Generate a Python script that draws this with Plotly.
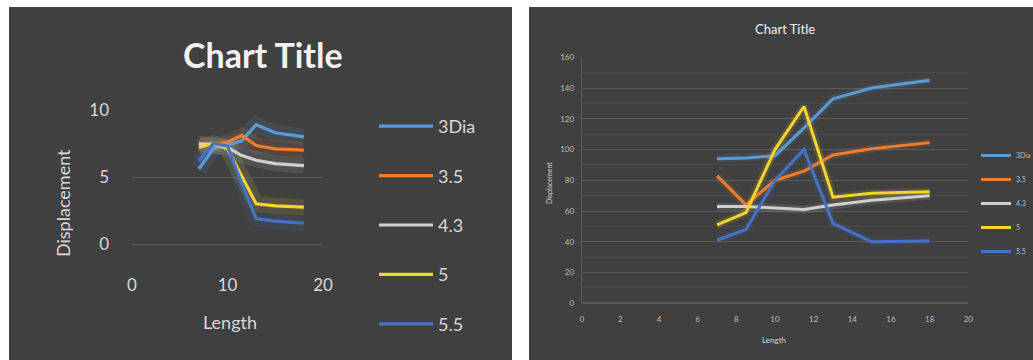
import plotly.graph_objects as go

W, H = 1033, 360

# ---- data ----
series_names = ["3Dia", "3.5", "4.3", "5", "5.5"]
length_vals = [7, 8.5, 10, 11.5, 13, 15, 18]

# left chart (small displacement scale)
disp_small_3dia = [5.6, 7.1, 7.4, 7.7, 8.9, 8.3, 8.0]
disp_small_35 = [7.5, 7.4, 7.6, 8.1, 7.35, 7.1, 7.0]
disp_small_43 = [7.45, 7.45, 7.2, 6.6, 6.25, 6.0, 5.85]
disp_small_5 = [7.2, 7.5, 7.1, 5.0, 3.0, 2.85, 2.75]
disp_small_55 = [6.2, 7.5, 7.3, 4.5, 1.9, 1.7, 1.55]

# right chart (large displacement scale)
disp_large_3dia = [94, 94.5, 96, 114, 133, 140, 145]
disp_large_35 = [83, 64, 80, 86, 96.5, 100.5, 104.5]
disp_large_43 = [63, 63, 62, 61, 64, 67, 70]
disp_large_5 = [51, 59, 100, 128, 69, 71.5, 72.5]
disp_large_55 = [41, 48, 80, 100, 52, 40, 40.5]

colors = ["#5b9bd5", "#ed7d31", "#cfcfcf", "#f4d52c", "#4472c4"]

left_sets = [disp_small_3dia, disp_small_35, disp_small_43, disp_small_5, disp_small_55]
right_sets = [disp_large_3dia, disp_large_35, disp_large_43, disp_large_5, disp_large_55]

FONT = "Lato, 'Open Sans', sans-serif"
PANEL = "#404040"
TXT = "#d9d9d9"


def px(x):
    return x / W


def py(y):
    return 1 - y / H


fig = go.Figure()

# soft glow under the lines, then the lines themselves
for name, col, ys in zip(series_names, colors, left_sets):
    fig.add_trace(go.Scatter(x=length_vals, y=ys, mode="lines", xaxis="x", yaxis="y",
                             line=dict(color=col, width=16), opacity=0.12,
                             showlegend=False, hoverinfo="skip"))
for name, col, ys in zip(series_names, colors, right_sets):
    fig.add_trace(go.Scatter(x=length_vals, y=ys, mode="lines", xaxis="x2", yaxis="y2",
                             line=dict(color=col, width=8), opacity=0.13,
                             showlegend=False, hoverinfo="skip"))

for name, col, ys in zip(series_names, colors, left_sets):
    fig.add_trace(go.Scatter(x=length_vals, y=ys, mode="lines", name=name,
                             xaxis="x", yaxis="y", legend="legend",
                             legendgroup="L" + name,
                             line=dict(color=col, width=3.2)))
for name, col, ys in zip(series_names, colors, right_sets):
    fig.add_trace(go.Scatter(x=length_vals, y=ys, mode="lines", name=name,
                             xaxis="x2", yaxis="y2", legend="legend2",
                             legendgroup="R" + name,
                             line=dict(color=col, width=3)))

shapes = [
    dict(type="rect", xref="paper", yref="paper", x0=px(9), x1=px(512), y0=0, y1=py(7),
         fillcolor=PANEL, line=dict(width=0), layer="below"),
    dict(type="rect", xref="paper", yref="paper", x0=px(529), x1=1, y0=0, y1=py(7),
         fillcolor=PANEL, line=dict(width=0), layer="below"),
]


def label(text, x, y, size, color=TXT, angle=0):
    return dict(text=text, x=px(x), y=py(y), xref="paper", yref="paper",
                xanchor="center", yanchor="middle", showarrow=False, textangle=angle,
                font=dict(size=size, color=color, family=FONT))


annotations = [
    label("<b>Chart Title</b>", 263, 54, 34, "#f2f2f2"),
    label("Displacement", 63, 203, 18, angle=-90),
    label("Length", 230, 322, 18),
    label("Chart Title", 785, 29, 13, "#f2f2f2"),
    label("Displacement", 549, 183, 7, angle=-90),
    label("Length", 774, 340, 8),
]

fig.update_layout(
    width=W, height=H,
    margin=dict(l=0, r=0, t=0, b=0, autoexpand=False),
    paper_bgcolor="white",
    plot_bgcolor="rgba(0,0,0,0)",
    font=dict(family=FONT, color=TXT),
    shapes=shapes,
    annotations=annotations,
    xaxis=dict(domain=[px(132), px(323)], range=[0, 20], dtick=10, showgrid=False,
               zeroline=False, showline=False, ticks="", ticklabelstandoff=29,
               tickfont=dict(size=17, color=TXT, family=FONT), anchor="y"),
    yaxis=dict(domain=[py(244), py(110)], range=[0, 10], dtick=5, showgrid=True,
               gridcolor="#5c5c5c", gridwidth=1, zeroline=True, zerolinecolor="#5c5c5c",
               zerolinewidth=1, showline=False, ticks="", ticklabelstandoff=22,
               tickfont=dict(size=17, color=TXT, family=FONT), anchor="x"),
    xaxis2=dict(domain=[px(581.7), px(968.3)], range=[0, 20], dtick=2, showgrid=False,
                zeroline=False, showline=False, ticks="", ticklabelstandoff=10,
                tickfont=dict(size=8, color="#bfbfbf", family=FONT), anchor="y2"),
    yaxis2=dict(domain=[py(303.3), py(57.3)], range=[0, 160], dtick=20, showgrid=True,
                gridcolor="#5a5a5a", gridwidth=1, zeroline=True, zerolinecolor="#5a5a5a",
                showline=True, linecolor="#5a5a5a", linewidth=1,
                minor=dict(dtick=10, showgrid=True, gridcolor="#4a4a4a", gridwidth=1),
                ticks="", ticklabelstandoff=5,
                tickfont=dict(size=8, color="#bfbfbf", family=FONT), anchor="x2"),
    legend=dict(x=px(374), y=py(108), xanchor="left", yanchor="top",
                bgcolor="rgba(0,0,0,0)", font=dict(size=18, color=TXT, family=FONT),
                traceorder="grouped", tracegroupgap=23, itemwidth=54),
    legend2=dict(x=px(976), y=py(141), xanchor="left", yanchor="top",
                 bgcolor="rgba(0,0,0,0)", font=dict(size=7, color="#bfbfbf", family=FONT),
                 traceorder="grouped", tracegroupgap=5, itemwidth=30),
    showlegend=True,
)

fig.write_html("out.html")
